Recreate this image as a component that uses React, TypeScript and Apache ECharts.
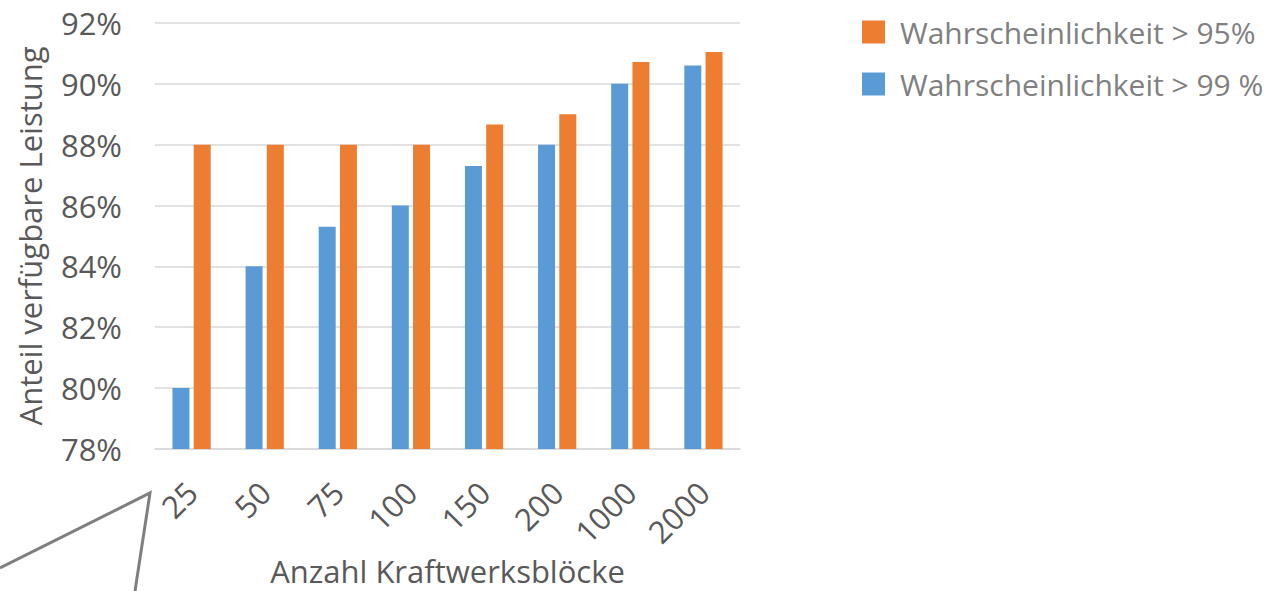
import React, { useEffect, useRef } from "react";
import * as echarts from "echarts";

const categories = ["25", "50", "75", "100", "150", "200", "1000", "2000"];
const p99Values = [80, 84, 85.3, 86, 87.3, 88, 90, 90.6];
const p95Values = [88, 88, 88, 88, 88.66, 89, 90.72, 91.05];
const seriesNames = ["Wahrscheinlichkeit > 95%", "Wahrscheinlichkeit > 99 %"];
const yMin = 78;
const yMax = 92;
const yStep = 2;

const FONT = "'Open Sans', 'Noto Sans', sans-serif";

export default function App() {
  const ref = useRef<HTMLDivElement>(null);
  useEffect(() => {
    if (!ref.current) return;
    const chart = echarts.init(ref.current, undefined, { renderer: "svg" });
    chart.setOption({
      animation: false,
      backgroundColor: "#ffffff",
      textStyle: { fontFamily: FONT },
      grid: { left: 155, right: 545, top: 23, bottom: 138, containLabel: false },
      legend: {
        orient: "vertical",
        left: 862,
        top: 17,
        padding: 0,
        itemWidth: 23,
        itemHeight: 23,
        itemGap: 22,
        icon: "rect",
        data: [seriesNames[0], seriesNames[1]],
        textStyle: { fontSize: 30, color: "#808080", fontFamily: FONT, padding: [0, 0, 0, 10] },
      },
      xAxis: {
        type: "category",
        data: categories,
        name: "Anzahl Kraftwerksblöcke",
        nameLocation: "middle",
        nameGap: 106,
        nameTextStyle: { fontSize: 31, color: "#595959", fontFamily: FONT },
        axisLine: { lineStyle: { color: "#d9d9d9", width: 1.5 } },
        axisTick: { show: false },
        axisLabel: {
          rotate: 45,
          fontSize: 31,
          color: "#595959",
          fontFamily: FONT,
          margin: 38,
        },
      },
      yAxis: {
        type: "value",
        min: yMin,
        max: yMax,
        interval: yStep,
        name: "Anteil verfügbare Leistung",
        nameLocation: "middle",
        nameGap: 110,
        nameTextStyle: { fontSize: 31, color: "#595959", fontFamily: FONT },
        axisLine: { show: false },
        axisTick: { show: false },
        splitLine: { lineStyle: { color: "#d9d9d9", width: 1.5 } },
        axisLabel: {
          formatter: "{value}%",
          fontSize: 31,
          color: "#595959",
          fontFamily: FONT,
          margin: 33,
        },
      },
      series: [
        {
          name: seriesNames[1],
          type: "bar",
          data: p99Values,
          barWidth: 17,
          barGap: "25%",
          itemStyle: { color: "#5b9bd5" },
        },
        {
          name: seriesNames[0],
          type: "bar",
          data: p95Values,
          barWidth: 17,
          barGap: "25%",
          itemStyle: { color: "#ed7d31" },
        },
      ],
      graphic: [
        {
          type: "polyline",
          shape: { points: [[0, 568], [150, 493], [135, 591]] },
          style: { stroke: "#7f7f7f", lineWidth: 3, fill: "none" },
          z: 10,
        },
      ],
    });
    return () => chart.dispose();
  }, []);
  return (
    <div
      ref={ref}
      style={{ position: "fixed", left: 0, top: 0, width: 1285, height: 591 }}
    />
  );
}
